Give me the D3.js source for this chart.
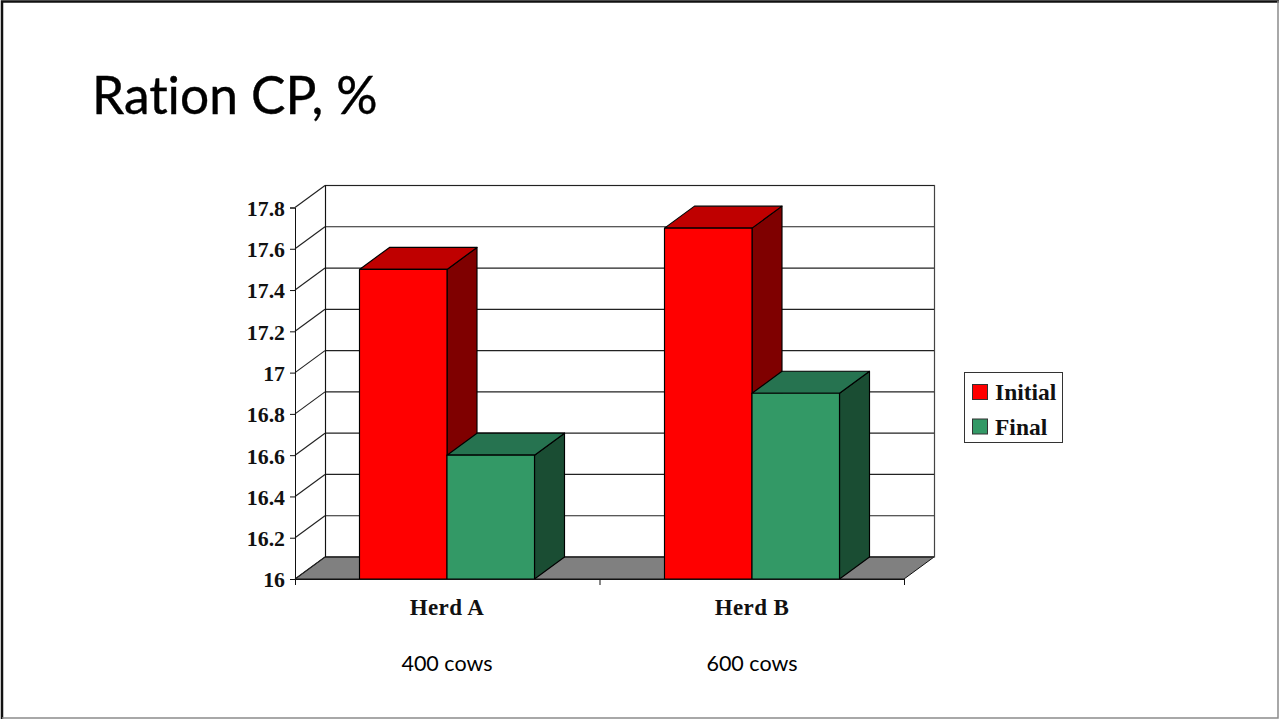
<!DOCTYPE html>
<html>
<head>
<meta charset="utf-8">
<title>Ration CP, %</title>
<script src="https://d3js.org/d3.v7.min.js"></script>
<style>
  html, body { margin: 0; padding: 0; background: #fff; }
  svg { display: block; }
  .serif { font-family: "Liberation Serif", serif; font-weight: bold; fill: #111; }
  .sans { font-family: Lato, "Open Sans", sans-serif; fill: #000; font-variant-ligatures: none; }
</style>
</head>
<body>
<svg id="chart" width="1279" height="719"></svg>
<script>
// Chart content
const titleText = "Ration CP, %";
const herds = ["Herd A", "Herd B"];
const herdSizes = ["400 cows", "600 cows"];
const seriesNames = ["Initial", "Final"];
const initialValues = [17.5, 17.7];
const finalValues = [16.6, 16.9];
const yTickValues = [16, 16.2, 16.4, 16.6, 16.8, 17, 17.2, 17.4, 17.6, 17.8];

// Face colours for each series: front, top, side
const frontColors = ["#ff0000", "#339966"];
const topColors = ["#bf0000", "#267350"];
const sideColors = ["#7f0000", "#1a4d33"];

// Oblique projection offset of the 3D box
const depthX = 30, depthY = -22;

const svg = d3.select("#chart");

// Slide frame
svg.append("path").attr("d", "M2,719V1.5H1279").attr("fill", "none").attr("stroke", "#111").attr("stroke-width", 2.5);
svg.append("path").attr("d", "M1278,1V718H2").attr("fill", "none").attr("stroke", "#8c8c8c").attr("stroke-width", 1.5);

svg.append("text").attr("class", "sans").attr("x", 92).attr("y", 114)
  .attr("font-size", 51.5).attr("stroke", "#000").attr("stroke-width", 0.4).text(titleText);

// Scales
const y = d3.scaleLinear().domain([16, 17.8]).range([579, 207.5]);
const x = d3.scaleBand().domain(herds).range([294.5, 904.5]);
const groupWidth = x.bandwidth() * 0.5738;
const xSeries = d3.scaleBand().domain(seriesNames).range([0, groupWidth]);
const groupLeft = h => x(h) + (x.bandwidth() - groupWidth) / 2;

// The walls and the category axis span one pixel less than the bands
const xLeft = 295, xRight = 904;
const yFloor = y(16), yTop = y(17.8);

const walls = svg.append("g").attr("fill", "none");

// Floor
walls.append("path")
  .attr("d", `M${xLeft},${yFloor}L${xLeft + depthX},${yFloor + depthY}H${xRight + depthX}L${xRight},${yFloor}Z`)
  .attr("fill", "#808080").attr("stroke", "#111").attr("stroke-width", 1);

// Back wall outline
walls.append("rect")
  .attr("x", xLeft + depthX + 0.5).attr("y", yTop + depthY)
  .attr("width", xRight - xLeft).attr("height", yFloor - yTop)
  .attr("stroke", "#444").attr("stroke-width", 1.2);

// Gridlines on the back wall and running along the left wall
const grid = walls.append("g").attr("stroke", "#222").attr("stroke-width", 1.15);
yTickValues.forEach(v => {
  grid.append("line")
    .attr("x1", xLeft + depthX).attr("x2", xRight + depthX)
    .attr("y1", y(v) + depthY).attr("y2", y(v) + depthY);
  grid.append("line")
    .attr("x1", xLeft).attr("x2", xLeft + depthX)
    .attr("y1", y(v)).attr("y2", y(v) + depthY);
});
walls.append("line")
  .attr("x1", xLeft + depthX + 0.5).attr("x2", xLeft + depthX + 0.5)
  .attr("y1", yTop + depthY).attr("y2", yFloor + depthY)
  .attr("stroke", "#111");

// Bars as three-faced boxes
const boxes = [];
herds.forEach((h, i) => {
  boxes.push({ herd: h, s: 0, value: initialValues[i] });
  boxes.push({ herd: h, s: 1, value: finalValues[i] });
});
const bar = svg.append("g").selectAll("g").data(boxes).join("g")
  .attr("stroke", "#000").attr("stroke-width", 1.15).attr("stroke-linejoin", "round");
const left = d => groupLeft(d.herd) + xSeries(seriesNames[d.s]);
const w = xSeries.bandwidth();
bar.append("path").attr("fill", d => sideColors[d.s])
  .attr("d", d => `M${left(d) + w},${y(d.value)}l${depthX},${depthY}V${yFloor + depthY}L${left(d) + w},${yFloor}Z`);
bar.append("path").attr("fill", d => topColors[d.s])
  .attr("d", d => `M${left(d)},${y(d.value)}l${depthX},${depthY}h${w}l${-depthX},${-depthY}Z`);
bar.append("rect").attr("fill", d => frontColors[d.s])
  .attr("x", left).attr("y", d => y(d.value))
  .attr("width", w).attr("height", d => yFloor - y(d.value));

// Value axis
const yAxis = svg.append("g").attr("transform", `translate(${xLeft},0)`)
  .call(d3.axisLeft(y).tickValues(yTickValues).tickFormat(d3.format("~g")).tickSize(5).tickPadding(5));
yAxis.selectAll("text").attr("class", "serif").attr("font-size", 21.8).attr("fill", null).attr("dy", "0.36em");
yAxis.select(".domain").attr("stroke", "#111");
yAxis.selectAll("line").attr("stroke", "#111");

// Category axis: ticks sit on the band edges
const edgeScale = d3.scaleLinear().domain([0, herds.length]).range([xLeft, xRight]);
const xAxis = svg.append("g").attr("transform", `translate(0,${yFloor})`)
  .call(d3.axisBottom(edgeScale).tickValues(d3.range(herds.length + 1)).tickFormat("").tickSize(6));
xAxis.select(".domain").attr("stroke", "#111");
xAxis.selectAll("line").attr("stroke", "#111");

// Category labels and herd sizes
const labels = svg.append("g").attr("text-anchor", "middle");
labels.selectAll(".herd").data(herds).join("text")
  .attr("class", "serif herd").attr("font-size", 23).attr("letter-spacing", 0.4)
  .attr("x", d => x(d) + x.bandwidth() / 2).attr("y", 615).text(d => d);
labels.selectAll(".size").data(herdSizes).join("text")
  .attr("class", "sans size").attr("font-size", 21.5)
  .attr("x", (d, i) => x(herds[i]) + x.bandwidth() / 2).attr("y", 671).text(d => d);

// Legend
const legend = svg.append("g");
legend.append("rect").attr("x", 964.5).attr("y", 372.5).attr("width", 98).attr("height", 70)
  .attr("fill", "#fff").attr("stroke", "#333");
const entry = legend.selectAll("g").data(seriesNames).join("g")
  .attr("transform", (d, i) => `translate(0,${i * 34.5})`);
entry.append("rect").attr("x", 972.5).attr("y", 384.5).attr("width", 15).attr("height", 15)
  .attr("fill", (d, i) => frontColors[i]).attr("stroke", "#333");
entry.append("text").attr("class", "serif").attr("font-size", 23.5)
  .attr("x", 995).attr("y", 400).text(d => d);
</script>
</body>
</html>
